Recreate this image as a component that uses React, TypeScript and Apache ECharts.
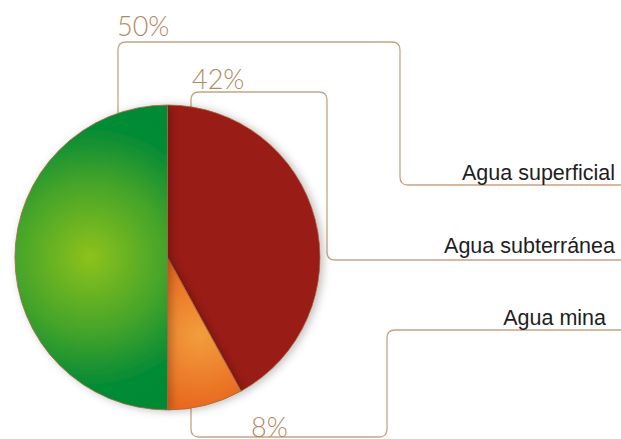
import React, { useEffect, useRef } from "react";
import * as echarts from "echarts";

// ---- data ----
const categories = ["Agua superficial", "Agua subterránea", "Agua mina"];
const values = [50, 42, 8];
// order in which the slices are drawn clockwise from 12 o'clock
const sliceOrder = [1, 2, 0];

// ---- layout / style (not data) ----
const sliceColors: any[] = [
  {
    type: "radial", x: 90, y: 257, r: 150, global: true,
    colorStops: [
      { offset: 0, color: "#8dc21c" },
      { offset: 0.5, color: "#45a42a" },
      { offset: 0.85, color: "#068b35" },
      { offset: 1, color: "#038a36" },
    ],
  },
  "#9a1a14",
  {
    type: "radial", x: 200, y: 335, r: 85, global: true,
    colorStops: [
      { offset: 0, color: "#f29e3d" },
      { offset: 1, color: "#e7601b" },
    ],
  },
];

const leaderPaths = [
  "M118,120 V50 Q118,42 126,42 H392 Q400,42 400,50 V177 Q400,185 408,185 H625",
  "M191,115 V100 Q191,92 199,92 H319 Q327,92 327,100 V252 Q327,260 335,260 H625",
  "M191,400 V429 Q191,437 199,437 H379 Q387,437 387,429 V338 Q387,330 395,330 H625",
];
const pctPos = [
  [117, 25],
  [192, 78],
  [251, 426],
];
const namePos = [
  [615, 173],
  [615, 246],
  [606, 318],
];

leaderPaths.forEach((d, i) => {
  echarts.graphic.registerShape("leader" + i, echarts.graphic.extendPath(d, {}) as any);
});

export default function App() {
  const ref = useRef<HTMLDivElement>(null);
  useEffect(() => {
    if (!ref.current) return;
    const chart = echarts.init(ref.current, null, { renderer: "svg" });
    const graphics: any[] = [];
    leaderPaths.forEach((_, i) => {
      graphics.push({
        type: "leader" + i,
        x: 0,
        y: 0,
        z: 0,
        style: { fill: "none", stroke: "#c9a385", lineWidth: 1.3 },
      });
    });
    categories.forEach((c, i) => {
      graphics.push({
        type: "text",
        x: pctPos[i][0],
        y: pctPos[i][1],
        z: 5,
        style: {
          text: values[i] + "%",
          fill: "#b4885f",
          font: "300 27px Lato",
          textAlign: "left",
          textVerticalAlign: "middle",
        },
      });
      graphics.push({
        type: "text",
        x: namePos[i][0],
        y: namePos[i][1],
        z: 5,
        style: {
          text: c,
          fill: "#1e1e1e",
          font: "21.5px 'Liberation Sans', Arial, sans-serif",
          textAlign: "right",
          textVerticalAlign: "middle",
        },
      });
    });
    chart.setOption({
      animation: false,
      graphic: graphics,
      series: [
        {
          type: "pie",
          center: [167.5, 257.5],
          radius: 152.5,
          startAngle: 90,
          clockwise: true,
          silent: true,
          label: { show: false },
          labelLine: { show: false },
          itemStyle: {
            borderColor: "#a8683f",
            borderWidth: 0.8,
            shadowBlur: 8,
            shadowOffsetX: 3,
            shadowOffsetY: 1,
            shadowColor: "rgba(0,0,0,0.25)",
          },
          data: sliceOrder.map((i) => ({
            name: categories[i],
            value: values[i],
            itemStyle: { color: sliceColors[i] },
          })),
        },
      ],
    });
    return () => chart.dispose();
  }, []);
  return <div ref={ref} style={{ width: 621, height: 439, position: "absolute", left: 0, top: 0 }} />;
}
